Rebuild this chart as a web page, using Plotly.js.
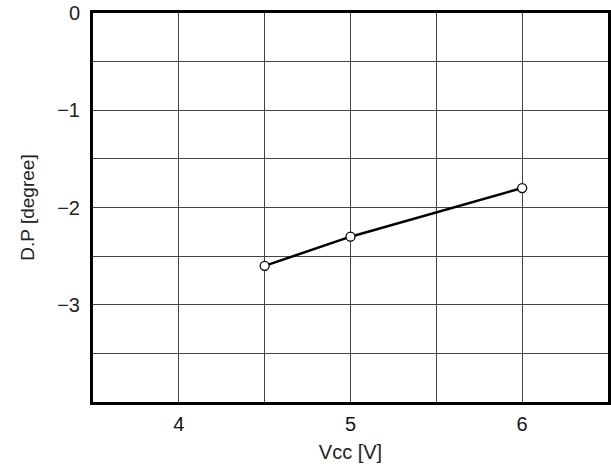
<!DOCTYPE html>
<html><head><meta charset="utf-8">
<script src="https://cdn.plot.ly/plotly-3.0.1.min.js"></script>
<style>html,body{margin:0;padding:0;background:#fff}#c{width:611px;height:473px}</style>
</head><body><div id="c"></div>
<script>
const vcc = [4.5, 5, 6];
const dp = [-2.6, -2.3, -1.8];
const xTicks = [4, 5, 6];
const yTicks = [0, -1, -2, -3];
const yTickText = ['0', '\u22121', '\u22122', '\u22123'];

const trace = {
  x: vcc, y: dp, mode: 'lines+markers', type: 'scatter',
  line: {color: '#000', width: 2.5},
  marker: {symbol: 'circle', size: 9, color: '#fff', line: {color: '#000', width: 1.3}},
  showlegend: false, cliponaxis: false
};
const layout = {
  width: 611, height: 473,
  margin: {l: 93, r: 3, t: 13, b: 71},
  paper_bgcolor: '#fff', plot_bgcolor: '#fff',
  font: {family: 'Liberation Sans, Arial, sans-serif', color: '#000', size: 18},
  xaxis: {
    range: [3.5, 6.5], tickvals: xTicks, ticks: '', ticklabelstandoff: 2,
    tickfont: {size: 20, color: '#111'},
    showgrid: true, gridcolor: '#444', gridwidth: 1,
    minor: {tickvals: [3.5, 4.5, 5.5, 6.5], showgrid: true, gridcolor: '#444', gridwidth: 1},
    showline: true, linecolor: '#000', linewidth: 3, mirror: true, zeroline: false,
    title: {text: 'Vcc [V]', font: {size: 20, color: '#222'}, standoff: 11}
  },
  yaxis: {
    range: [-4, 0], tickvals: yTicks, ticktext: yTickText, ticks: '', ticklabelstandoff: 6,
    tickfont: {size: 20, color: '#222'},
    showgrid: true, gridcolor: '#444', gridwidth: 1,
    minor: {tickvals: [-0.5, -1.5, -2.5, -3.5], showgrid: true, gridcolor: '#444', gridwidth: 1},
    showline: true, linecolor: '#000', linewidth: 3, mirror: true, zeroline: false,
    title: {text: 'D.P [degree]', font: {size: 19, color: '#222'}, standoff: 18}
  }
};
Plotly.newPlot('c', [trace], layout, {displayModeBar: false, staticPlot: true});
</script></body></html>
